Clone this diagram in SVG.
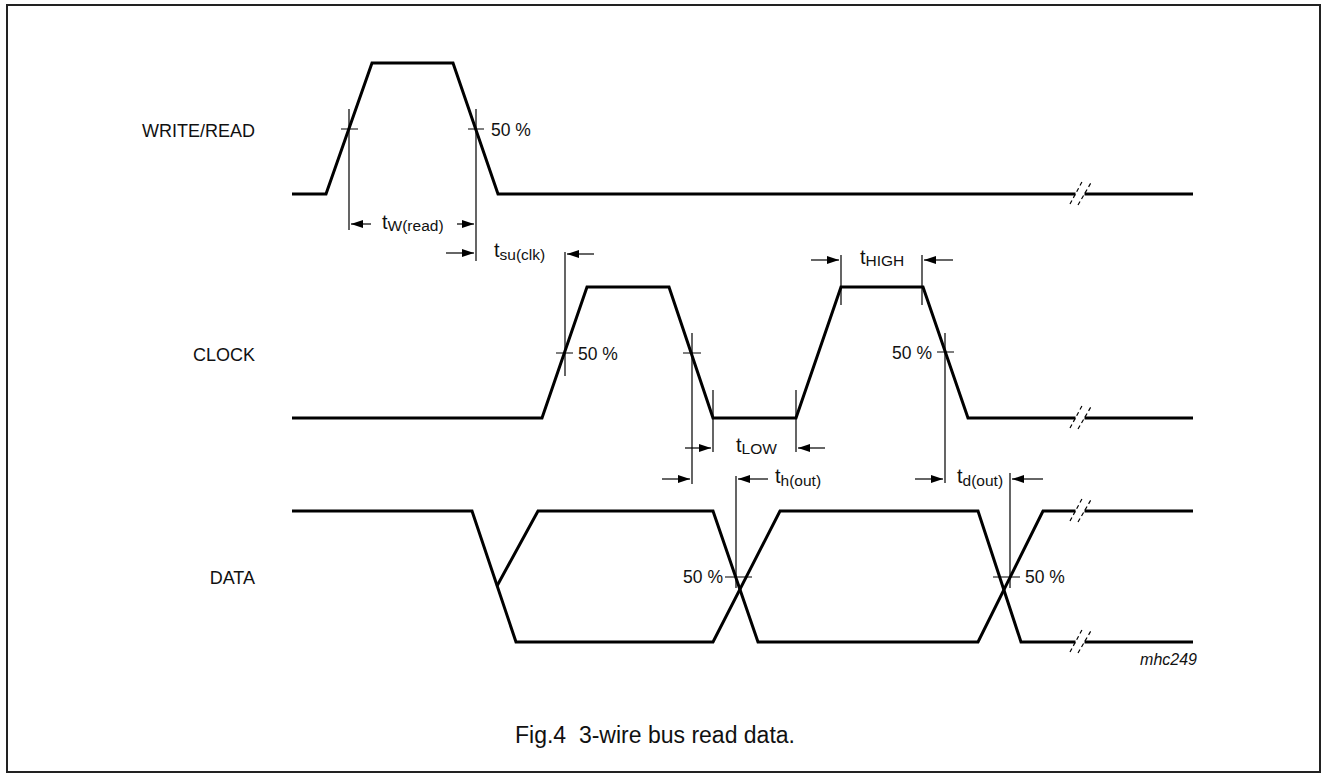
<svg xmlns="http://www.w3.org/2000/svg" width="1327" height="778" viewBox="0 0 1327 778">
<style>
text{font-family:"Liberation Sans",Arial,Helvetica,sans-serif;fill:#111}
.lbl{font-size:18px}
.pct{font-size:17.5px}
.t{font-size:20px}
.sub{font-size:15.5px}
.cap{font-size:23px}
.id{font-size:16px;font-style:italic}
.wave{fill:none;stroke:#000;stroke-width:3;stroke-linejoin:miter}
.thin{fill:none;stroke:#000;stroke-width:1.2}
.arr{fill:none;stroke:#000;stroke-width:1.2;marker-end:url(#ah)}
.brk{fill:none;stroke:#000;stroke-width:1.2;stroke-dasharray:4 3}
</style>
<defs>
<marker id="ah" markerWidth="12" markerHeight="8" refX="12" refY="4" orient="auto" markerUnits="userSpaceOnUse"><path d="M0,0 L12,4 L0,8 z" fill="#000"/></marker>
</defs>
<rect x="7" y="5" width="1313" height="767" fill="#fff" stroke="#222" stroke-width="2"/>

<g id="write-read">
<text class="lbl" x="255" y="137" text-anchor="end">WRITE/READ</text>
<path class="wave" d="M292,194 H326 L372,63 H453 L498,194 H1075.5 M1084.5,194 H1193"/>
<path class="brk" d="M1070,204 L1083,180 M1078,205 L1092,181"/>
<path class="thin" d="M349,109 V230 M341,129 H358 M476,109 V261 M468,129 H484"/>
<text class="pct" x="491" y="136">50 %</text>
</g>

<g id="clock">
<text class="lbl" x="255" y="361" text-anchor="end">CLOCK</text>
<path class="wave" d="M292,418 H542 L587,287 H669 L713,418 H796 L841,287 H923 L968,418 H1075.5 M1084.5,418 H1193"/>
<path class="brk" d="M1070,428 L1083,404 M1078,429 L1092,405"/>
<path class="thin" d="M565,252 V376 M556,353 H573 M692,333 V484 M683,353 H701 M945,333 V483 M937,352 H954 M713,390 V452 M796,390 V452 M841,255 V305 M922,255 V305"/>
<text class="pct" x="578" y="360">50 %</text>
<text class="pct" x="932" y="359" text-anchor="end">50 %</text>
</g>

<g id="data">
<text class="lbl" x="255" y="584" text-anchor="end">DATA</text>
<path class="wave" d="M292,511 H472 L516,642 H713 L780,511 H978 L1021,642 H1075.5 M1084.5,642 H1193"/>
<path class="wave" d="M497,586 L538,511 H713 L758,642 H978 L1043,511 H1075.5 M1084.5,511 H1193"/>
<path class="brk" d="M1070,521 L1083,497 M1078,522 L1092,498 M1070,652 L1083,628 M1078,653 L1092,629"/>
<path class="thin" d="M736,476 V588 M725,577 H752 M1010,473 V588 M993,577 H1020"/>
<text class="pct" x="723" y="583" text-anchor="end">50 %</text>
<text class="pct" x="1025" y="583">50 %</text>
</g>

<g id="connectors">
<line class="arr" x1="371" y1="224" x2="351" y2="224"/>
<line class="arr" x1="457" y1="224" x2="474" y2="224"/>
<line class="arr" x1="446" y1="253" x2="474" y2="253"/>
<line class="arr" x1="594" y1="254" x2="567" y2="254"/>
<line class="arr" x1="811" y1="260" x2="839" y2="260"/>
<line class="arr" x1="953" y1="260" x2="924" y2="260"/>
<line class="arr" x1="685" y1="448" x2="711" y2="448"/>
<line class="arr" x1="825" y1="448" x2="798" y2="448"/>
<line class="arr" x1="662" y1="479" x2="690" y2="479"/>
<line class="arr" x1="768" y1="479" x2="738" y2="479"/>
<line class="arr" x1="915" y1="479" x2="943" y2="479"/>
<line class="arr" x1="1043" y1="479" x2="1012" y2="479"/>
</g>

<g id="timing-labels">
<text class="t" x="382" y="229">t<tspan class="sub" dy="2">W(read)</tspan></text>
<text class="t" x="494" y="257">t<tspan class="sub" dy="3">su(clk)</tspan></text>
<text class="t" x="860" y="264">t<tspan class="sub" dy="2">HIGH</tspan></text>
<text class="t" x="736" y="452">t<tspan class="sub" dy="2">LOW</tspan></text>
<text class="t" x="775" y="483">t<tspan class="sub" dy="3">h(out)</tspan></text>
<text class="t" x="957" y="483">t<tspan class="sub" dy="3">d(out)</tspan></text>
</g>

<text class="id" x="1197" y="665" text-anchor="end">mhc249</text>
<text class="cap" x="515" y="743" xml:space="preserve">Fig.4  3-wire bus read data.</text>
</svg>
